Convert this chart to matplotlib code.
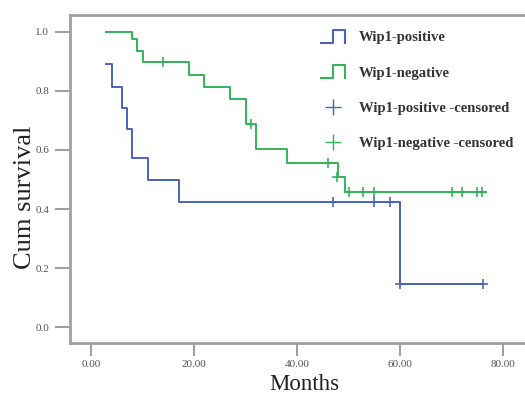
import numpy as np
import matplotlib
matplotlib.use('Agg')
import matplotlib.pyplot as plt
from matplotlib.lines import Line2D
from matplotlib.legend_handler import HandlerBase
from matplotlib.ticker import FormatStrFormatter

plt.rcParams['font.family'] = ['Liberation Serif', 'DejaVu Serif']

# Kaplan-Meier step data
pos_times = [3, 4, 6, 7, 8, 11, 17, 60, 76.2]
pos_surv = [0.891, 0.814, 0.741, 0.670, 0.574, 0.498, 0.425, 0.146, 0.146]
pos_cens_t = [46.9, 55.0, 58.1, 60.0, 76.2]
pos_cens_s = [0.425, 0.425, 0.425, 0.146, 0.146]

neg_times = [3, 8, 9, 10, 19, 22, 27, 30, 32, 38, 48, 49.3, 76.7]
neg_surv = [1.0, 0.974, 0.935, 0.896, 0.853, 0.812, 0.771, 0.688, 0.602,
            0.557, 0.509, 0.457, 0.457]
neg_cens_t = [13.9, 31.1, 46.1, 47.8, 50.0, 52.9, 55.0, 70.0, 72.0, 74.9, 75.9]
neg_cens_s = [0.896, 0.688, 0.557, 0.509, 0.457, 0.457, 0.457, 0.457, 0.457,
              0.457, 0.457]

labels = ['Wip1-positive', 'Wip1-negative',
          'Wip1-positive -censored', 'Wip1-negative -censored']

blue = '#4a62bd'
green = '#34b35a'
grey = '#a0a0a0'


class StepHandler(HandlerBase):
    # little "_|-|" icon like the SPSS legend
    def create_artists(self, legend, orig, xd, yd, w, h, fontsize, trans):
        xs = np.array([0, 0.5, 0.5, 1.0, 1.0]) * w - xd
        ys = np.array([-0.15, -0.15, 1.1, 1.1, -0.15]) * h - yd
        ln = Line2D(xs, ys, color=orig.get_color(), lw=1.5, transform=trans)
        return [ln]


fig = plt.figure(figsize=(5.25, 3.94), dpi=100)
# axes runs past the right edge of the figure, as in the original crop
ax = fig.add_axes([70 / 525, 1 - 343 / 394, 465 / 525, (343 - 15) / 394])

h1, = ax.step(pos_times, pos_surv, where='post', color=blue, lw=1.4)
h2, = ax.step(neg_times, neg_surv, where='post', color=green, lw=1.4)
h3, = ax.plot(pos_cens_t, pos_cens_s, ls='none', marker='+', ms=7, mew=1.2, color=blue)
h4, = ax.plot(neg_cens_t, neg_cens_s, ls='none', marker='+', ms=7, mew=1.2, color=green)

ax.set_xlim(-4.08, 86.2)
ax.set_ylim(-0.053, 1.056)
ax.set_xticks([0, 20, 40, 60, 80])
ax.set_yticks([0, 0.2, 0.4, 0.6, 0.8, 1.0])
ax.xaxis.set_major_formatter(FormatStrFormatter('%.2f'))
ax.yaxis.set_major_formatter(FormatStrFormatter('%.1f'))

for s in ['left', 'bottom', 'top']:
    ax.spines[s].set_color(grey)
    ax.spines[s].set_linewidth(2)
ax.spines['right'].set_visible(False)
ax.tick_params(direction='out', width=1.5, color=grey,
               labelsize=8, labelcolor='#555555')
ax.tick_params(axis='y', length=11, pad=4)
ax.tick_params(axis='x', length=9, pad=3)

ax.set_xlabel('Months', fontsize=16.5, color='#222222', va='top')
ax.xaxis.set_label_coords(0.505, -0.094)
ax.set_ylabel('Cum survival', fontsize=19, color='#222222')
ax.yaxis.set_label_coords(-0.074, 0.445)

h3m = Line2D([], [], ls='none', marker='+', ms=11, mew=1.0, color=blue)
h4m = Line2D([], [], ls='none', marker='+', ms=11, mew=1.0, color=green)
leg = ax.legend([h1, h2, h3m, h4m], labels, frameon=False,
                loc='upper left', bbox_to_anchor=(314 / 525, 1 - 24 / 394),
                bbox_transform=fig.transFigure, borderpad=0,
                handler_map={h1: StepHandler(), h2: StepHandler()},
                prop={'weight': 'bold', 'size': 10.5},
                labelspacing=1.5, handlelength=1.6, handletextpad=1.0)
for t in leg.get_texts():
    t.set_color('#333333')

fig.savefig('out.png', dpi=100)
